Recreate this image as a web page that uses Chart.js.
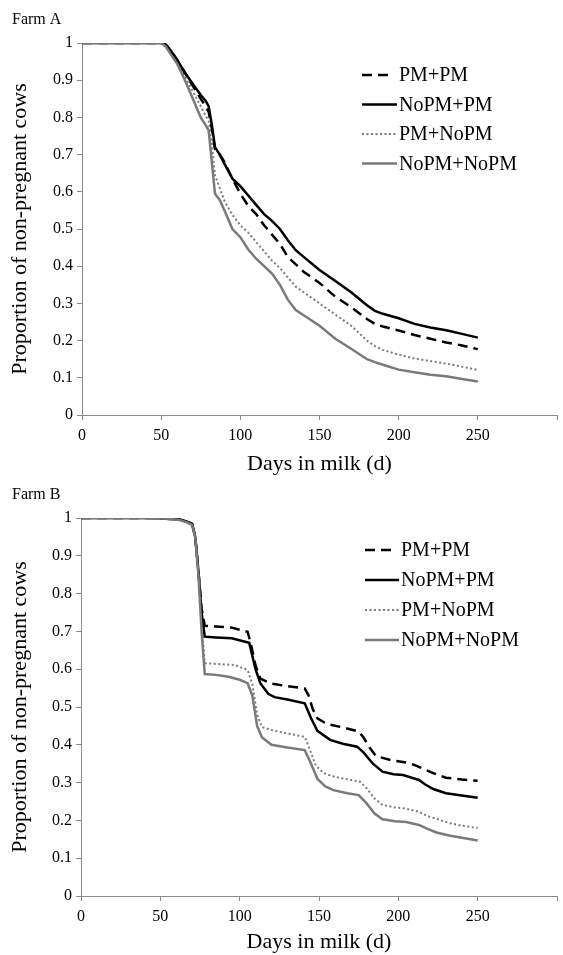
<!DOCTYPE html>
<html><head><meta charset="utf-8">
<script src="https://cdn.jsdelivr.net/npm/chart.js@4.4.0/dist/chart.umd.min.js"></script>
<style>
html,body{margin:0;padding:0;background:#fff;}
#wrap{position:relative;width:563px;height:955px;overflow:hidden;}
.box{position:absolute;left:0;width:563px;}
</style></head><body>
<div id="wrap">
<div class="box" style="top:0;height:478px"><canvas id="cA"></canvas></div>
<div class="box" style="top:478px;height:477px"><canvas id="cB"></canvas></div>
</div>
<script>
// ---------- tick labels ----------
const xTickLabels = ['0','50','100','150','200','250',''];
const yTickLabels = ['0','0.1','0.2','0.3','0.4','0.5','0.6','0.7','0.8','0.9','1'];
const seriesNames = ['PM+PM','NoPM+PM','PM+NoPM','NoPM+NoPM'];
const panelTitles = ['Farm A','Farm B'];
const xAxisTitle = 'Days in milk (d)';
const yAxisTitle = 'Proportion of non-pregnant cows';

// ---------- Farm A ----------
const farmA_days = [0,50,53,56,60,65,70,75,78,80,82,84,87,90,95,100,105,110,115,120,125,130,135,140,150,160,170,180,185,190,200,210,220,230,240,250];
const farmA_PMPM = [1,1,0.995,0.98,0.955,0.92,0.885,0.85,0.83,0.815,0.77,0.715,0.70,0.68,0.635,0.595,0.562,0.54,0.51,0.485,0.46,0.425,0.405,0.385,0.355,0.318,0.29,0.258,0.245,0.238,0.227,0.215,0.205,0.195,0.187,0.177];
const farmA_NoPMPM = [1,1,0.995,0.98,0.955,0.92,0.89,0.86,0.845,0.83,0.78,0.72,0.70,0.675,0.635,0.615,0.59,0.565,0.54,0.522,0.50,0.47,0.443,0.425,0.39,0.36,0.33,0.295,0.28,0.272,0.26,0.245,0.235,0.228,0.218,0.208];
const farmA_PMNoPM = [1,1,0.993,0.975,0.95,0.91,0.87,0.83,0.805,0.79,0.73,0.645,0.61,0.575,0.538,0.51,0.49,0.465,0.44,0.415,0.395,0.37,0.345,0.33,0.30,0.27,0.24,0.2,0.185,0.175,0.162,0.152,0.145,0.138,0.13,0.121];
const farmA_NoPMNoPM = [1,1,0.99,0.97,0.945,0.9,0.85,0.8,0.78,0.765,0.68,0.595,0.578,0.55,0.5,0.478,0.445,0.42,0.40,0.38,0.35,0.31,0.282,0.268,0.24,0.205,0.178,0.15,0.142,0.135,0.122,0.115,0.108,0.104,0.097,0.09];

// ---------- Farm B ----------
const farmB_PMPM_days = [0,45,62,67,70,72,74,76,78,85,95,105,107,110,113,120,130,141,143.5,146,149,155,165,175,178,182,186,195,205,210,215,222,230,240,250];
const farmB_PMPM = [1,1,0.996,0.99,0.985,0.95,0.86,0.76,0.715,0.713,0.71,0.699,0.668,0.61,0.575,0.562,0.555,0.549,0.53,0.495,0.47,0.455,0.446,0.435,0.42,0.392,0.37,0.36,0.353,0.347,0.338,0.325,0.313,0.308,0.305];
const farmB_NoPMPM_days = [0,45,62,67,70,72,74,76,78,85,95,106,110,113,118,122,130,141,145,149,157,165,174,178,184,190,197,203,213,217,222,230,240,250];
const farmB_NoPMPM = [1,1,0.996,0.99,0.985,0.95,0.86,0.75,0.686,0.684,0.682,0.67,0.6,0.563,0.535,0.526,0.52,0.51,0.47,0.437,0.413,0.403,0.395,0.38,0.35,0.329,0.322,0.32,0.307,0.295,0.283,0.272,0.266,0.26];
const farmB_PMNoPM_days = [0,45,62,67,70,72,74,76,78,85,97,105,108,111,114,120,130,141,144,148,153,160,170,176,180,185,190,198,205,213,218,225,232,240,250];
const farmB_PMNoPM = [1,1,0.996,0.99,0.985,0.95,0.86,0.72,0.616,0.614,0.611,0.598,0.56,0.48,0.447,0.439,0.43,0.421,0.39,0.345,0.325,0.315,0.307,0.302,0.285,0.258,0.241,0.234,0.231,0.223,0.212,0.203,0.193,0.186,0.18];
const farmB_NoPMNoPM_days = [0,40,55,62,67,70,72,74,76,78,85,93,100,105,108,111,114,120,130,141,145,149,154,159,168,175,180,185,190,198,205,213,218,224,232,240,250];
const farmB_NoPMNoPM = [1,1,0.998,0.995,0.988,0.982,0.95,0.85,0.7,0.587,0.585,0.58,0.572,0.563,0.53,0.45,0.42,0.4,0.393,0.386,0.35,0.31,0.29,0.28,0.272,0.267,0.245,0.218,0.203,0.198,0.196,0.188,0.178,0.168,0.16,0.154,0.147];

// ---------- helpers ----------
const FONT = '"Liberation Serif", "Times New Roman", serif';
const AXIS_COLOR = '#8a8a8a';
const styles = [
  {borderColor:'#000', borderWidth:2.5, borderDash:[10,6], order:2},
  {borderColor:'#000', borderWidth:2.5, borderDash:[], order:1},
  {borderColor:'#7a7a7a', borderWidth:2, borderDash:[2,2.5], order:3},
  {borderColor:'#7a7a7a', borderWidth:2.5, borderDash:[], order:0}
];
function pts(days, vals){ return days.map((d,i)=>({x:d, y:vals[i]})); }
function makeDatasets(list){
  return list.map((s,i)=>Object.assign({
    label: seriesNames[i], data: pts(s[0], s[1]), pointRadius:0, tension:0, fill:false
  }, styles[i]));
}

const annot = {
  id:'annot',
  afterDraw(chart, args, o){
    const ctx = chart.ctx;
    ctx.save();
    ctx.fillStyle = '#000';
    ctx.textAlign = 'left';
    ctx.textBaseline = 'middle';
    ctx.font = '16px ' + FONT;
    ctx.fillText(o.title, o.titleX, o.titleY);
    ctx.font = '20px ' + FONT;
    chart.data.datasets.forEach((ds,i)=>{
      const y = o.legY + i*o.legStep;
      const dash = ds.borderDash || [];
      let len = o.legX1 - o.legX0;
      if (dash.length) {
        const p = dash[0] + dash[1];
        const n = Math.floor((len + dash[1]) / p);
        len = n * p - dash[1];
      }
      ctx.beginPath();
      ctx.setLineDash(dash);
      ctx.strokeStyle = ds.borderColor;
      ctx.lineWidth = ds.borderWidth;
      ctx.moveTo(o.legX0, y); ctx.lineTo(o.legX0 + len, y); ctx.stroke();
      ctx.setLineDash([]);
      ctx.fillText(ds.label, o.legTextX, y + 1);
    });
    ctx.restore();
  }
};

function makeChart(id, datasets, cfg){
  return new Chart(document.getElementById(id), {
    type:'line',
    data:{datasets},
    plugins:[annot],
    options:{
      responsive:true, maintainAspectRatio:false, animation:false, devicePixelRatio:1,
      layout:{padding:{top:cfg.top, right:cfg.right, left:0, bottom:0}},
      plugins:{legend:{display:false}, tooltip:{enabled:false}, title:{display:false}, annot:cfg.annot},
      scales:{
        x:{type:'linear', min:0, max:300,
          ticks:{stepSize:50, autoSkip:false, maxRotation:0, color:'#000', padding:6,
            font:{family:FONT, size:16}, callback:(v,i)=>xTickLabels[i]},
          grid:{drawOnChartArea:false, drawTicks:true, tickLength:5, color:AXIS_COLOR},
          border:{color:AXIS_COLOR, width:1},
          title:{display:true, text:xAxisTitle, color:'#000', font:{family:FONT, size:22}, padding:{top:0, bottom:cfg.xTitlePad}},
          afterFit:s=>{ s.height = cfg.xH; }
        },
        y:{type:'linear', min:0, max:1,
          ticks:{stepSize:0.1, autoSkip:false, color:'#000', padding:4,
            font:{family:FONT, size:16}, callback:(v,i)=>yTickLabels[i]},
          grid:{drawOnChartArea:false, drawTicks:true, tickLength:5, color:AXIS_COLOR},
          border:{color:AXIS_COLOR, width:1},
          title:{display:true, text:yAxisTitle, color:'#000', font:{family:FONT, size:22}, padding:{top:7, bottom:0}},
          afterFit:s=>{ s.width = cfg.yW; }
        }
      }
    }
  });
}

makeChart('cA', makeDatasets([
  [farmA_days, farmA_PMPM],
  [farmA_days, farmA_NoPMPM],
  [farmA_days, farmA_PMNoPM],
  [farmA_days, farmA_NoPMNoPM]
]), {top:43, right:3, xH:63, yW:82, xTitlePad:1,
  annot:{title:panelTitles[0], titleX:12, titleY:20, legX0:362, legX1:397, legTextX:399, legY:75, legStep:29.5}});

makeChart('cB', makeDatasets([
  [farmB_PMPM_days, farmB_PMPM],
  [farmB_NoPMPM_days, farmB_NoPMPM],
  [farmB_PMNoPM_days, farmB_PMNoPM],
  [farmB_NoPMNoPM_days, farmB_NoPMNoPM]
]), {top:40, right:0, xH:59, yW:81, xTitlePad:0,
  annot:{title:panelTitles[1], titleX:12, titleY:17, legX0:365, legX1:399, legTextX:401, legY:72, legStep:30}});
</script>
</body></html>
